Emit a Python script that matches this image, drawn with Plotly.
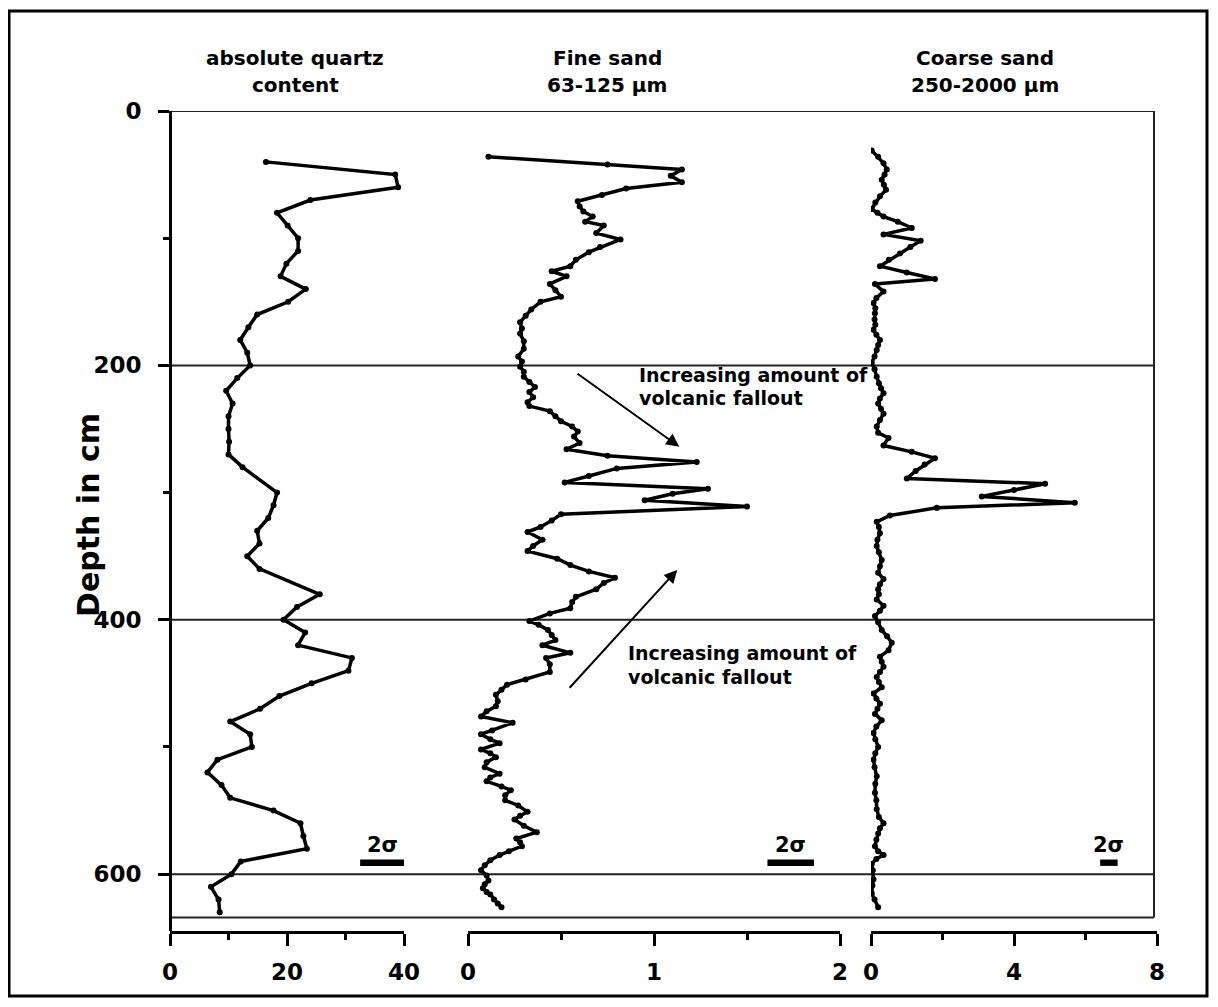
import plotly.graph_objects as go

# ---------------- data ----------------
quartz_depth = [40, 50, 60, 70, 80, 90, 100, 110, 120, 130, 140, 150, 160, 170, 180, 190, 200, 210, 220,
                230, 240, 250, 260, 270, 280, 300, 310, 320, 330, 340, 350, 360, 380, 390, 400, 410,
                420, 430, 440, 450, 460, 470, 480, 490, 500, 510, 520, 530, 540, 550, 560, 570, 580,
                590, 600, 610, 620, 630]
quartz = [16.4, 38.5, 39.0, 24.0, 18.3, 20.1, 21.9, 21.9, 19.9, 18.9, 23.2, 20.2, 14.9, 13.4, 12.0, 13.2,
          13.7, 11.5, 9.6, 10.7, 10.0, 10.0, 10.1, 10.0, 12.4, 18.3, 17.7, 16.8, 14.9, 15.3, 13.2, 15.3,
          25.6, 21.7, 19.4, 23.1, 21.9, 31.1, 30.5, 24.2, 18.7, 15.4, 10.3, 13.7, 14.0, 8.1, 6.4, 8.8,
          10.3, 17.7, 22.3, 22.8, 23.4, 12.1, 10.5, 7.0, 8.3, 8.5]

fine_depth = [36, 42, 46, 51, 56, 61, 66, 71, 75, 79, 83, 87, 90, 96, 101, 107, 111, 117, 122, 126, 130,
              136, 141, 146, 150, 156, 161, 166, 171, 175, 181, 187, 193, 197, 201, 205, 209, 213, 217,
              221, 225, 229, 232, 236, 240, 244, 248, 252, 256, 261, 266, 271, 276, 281, 287, 292, 297,
              301, 306, 311, 317, 322, 327, 331, 337, 342, 346, 352, 357, 362, 367, 371, 376, 382, 386,
              391, 395, 401, 404, 408, 412, 416, 420, 426, 430, 435, 441, 447, 451, 455, 459, 464, 468,
              472, 476, 481, 487, 490, 494, 497, 502, 505, 508, 512, 516, 521, 524, 527, 531, 534, 538,
              542, 546, 551, 554, 557, 562, 567, 572, 575, 578, 582, 585, 589, 593, 597, 601, 605, 608,
              611, 614, 616, 620, 623, 626]
fine_sand = [0.11, 0.75, 1.15, 1.09, 1.15, 0.85, 0.72, 0.59, 0.60, 0.62, 0.67, 0.63, 0.73, 0.69, 0.82,
             0.71, 0.65, 0.58, 0.55, 0.45, 0.53, 0.44, 0.47, 0.50, 0.39, 0.34, 0.31, 0.28, 0.29, 0.28,
             0.30, 0.30, 0.27, 0.29, 0.28, 0.30, 0.30, 0.33, 0.36, 0.33, 0.35, 0.32, 0.33, 0.44, 0.47,
             0.50, 0.56, 0.59, 0.57, 0.60, 0.53, 0.75, 1.23, 0.80, 0.65, 0.52, 1.29, 1.10, 0.95, 1.50,
             0.50, 0.45, 0.39, 0.32, 0.40, 0.35, 0.32, 0.48, 0.55, 0.65, 0.79, 0.73, 0.69, 0.58, 0.56,
             0.55, 0.44, 0.33, 0.38, 0.43, 0.45, 0.47, 0.40, 0.55, 0.42, 0.44, 0.44, 0.31, 0.21, 0.18,
             0.15, 0.16, 0.15, 0.10, 0.07, 0.24, 0.13, 0.07, 0.12, 0.17, 0.07, 0.12, 0.15, 0.10, 0.09,
             0.17, 0.12, 0.10, 0.18, 0.23, 0.20, 0.20, 0.27, 0.32, 0.28, 0.25, 0.30, 0.37, 0.26, 0.28,
             0.29, 0.22, 0.17, 0.12, 0.09, 0.07, 0.10, 0.11, 0.09, 0.08, 0.10, 0.12, 0.14, 0.16, 0.18]

coarse_depth = [31, 36, 41, 46, 50, 54, 58, 62, 67, 72, 77, 80, 83, 87, 92, 97, 102, 107, 112, 117, 122,
                127, 132, 136, 142, 147, 151, 155, 159, 164, 168, 172, 176, 180, 184, 188, 193, 198,
                203, 209, 214, 218, 222, 226, 230, 234, 238, 243, 248, 253, 257, 263, 268, 273, 278,
                283, 289, 293, 298, 303, 308, 312, 318, 323, 327, 332, 337, 342, 347, 353, 358, 363,
                368, 372, 376, 380, 384, 389, 393, 397, 402, 408, 413, 418, 424, 429, 433, 437, 441,
                445, 449, 453, 458, 462, 466, 470, 474, 479, 484, 489, 494, 500, 505, 510, 516, 523,
                529, 536, 542, 549, 555, 560, 564, 568, 573, 578, 582, 585, 588, 592, 597, 604, 609,
                615, 620, 626]
coarse_sand = [0.02, 0.20, 0.35, 0.44, 0.38, 0.30, 0.36, 0.42, 0.25, 0.12, 0.02, 0.18, 0.35, 0.75, 1.14,
               0.35, 1.39, 1.10, 0.81, 0.50, 0.25, 1.00, 1.79, 0.11, 0.35, 0.15, 0.07, 0.12, 0.11, 0.10,
               0.12, 0.07, 0.15, 0.25, 0.20, 0.16, 0.10, 0.02, 0.10, 0.16, 0.22, 0.28, 0.35, 0.25, 0.20,
               0.28, 0.35, 0.25, 0.16, 0.20, 0.49, 0.35, 1.14, 1.79, 1.50, 1.25, 1.00, 4.87, 4.00, 3.10,
               5.70, 1.84, 0.53, 0.16, 0.22, 0.25, 0.18, 0.16, 0.22, 0.30, 0.25, 0.20, 0.35, 0.25, 0.20,
               0.22, 0.16, 0.35, 0.25, 0.11, 0.20, 0.30, 0.45, 0.58, 0.49, 0.25, 0.30, 0.35, 0.25, 0.16,
               0.22, 0.30, 0.07, 0.15, 0.25, 0.18, 0.11, 0.30, 0.15, 0.07, 0.12, 0.20, 0.12, 0.07, 0.10,
               0.16, 0.12, 0.11, 0.15, 0.16, 0.22, 0.35, 0.25, 0.20, 0.15, 0.11, 0.20, 0.35, 0.15, 0.02,
               0.05, 0.07, 0.04, 0.02, 0.10, 0.20]

panel_titles = [("absolute quartz", "content"), ("Fine sand", "63-125 µm"), ("Coarse sand", "250-2000 µm")]
depth_ticks = [0, 200, 400, 600]
depth_minor = [100, 300, 500]
quartz_ticks = [0, 20, 40]
fine_ticks = [0, 1, 2]
coarse_ticks = [0, 4, 8]
sigma_label = "2σ"
# 2-sigma error bars (data units of each panel): (start, end)
sigma_quartz = (32.5, 40.0)
sigma_fine = (1.61, 1.86)
sigma_coarse = (6.41, 6.90)
annot_lines = ("Increasing amount of", "volcanic fallout")

# ---------------- figure ----------------
FONT = "DejaVu Sans, sans-serif"
OFF = 8                      # page body margin
W, H = 1218 - 2 * OFF, 1007 - 2 * OFF
L, T = 170 - OFF, 111 - OFF
R = W - (1157 - OFF)
B = H - (931 - OFF)
PW, PH = W - L - R, H - T - B


def px(xpix):
    return (xpix - OFF - L) / PW


def py(ypix):
    return (H - B - (ypix - OFF)) / PH


fig = go.Figure()
mk = dict(color="black", size=6)
ln = dict(color="black", width=3.5)
fig.add_trace(go.Scatter(x=quartz, y=quartz_depth, mode="lines+markers", line=ln, marker=mk,
                         xaxis="x", yaxis="y", showlegend=False))
fig.add_trace(go.Scatter(x=fine_sand, y=fine_depth, mode="lines+markers", line=ln, marker=mk,
                         xaxis="x2", yaxis="y", showlegend=False))
fig.add_trace(go.Scatter(x=coarse_sand, y=coarse_depth, mode="lines+markers", line=ln, marker=mk,
                         xaxis="x3", yaxis="y", showlegend=False))

box_bottom = 634
right_x = px(1154)

tickfont = dict(family=FONT, size=23, color="black")


def xaxis_cfg(domain, rng, ticks, minor_dtick):
    return dict(domain=domain, range=rng, anchor="y", showline=True, linewidth=3, linecolor="black",
                ticks="outside", ticklen=12, tickwidth=3, tickcolor="black", tickvals=ticks,
                ticktext=[f"<b>{t}</b>" for t in ticks], ticklabelstandoff=6,
                minor=dict(ticks="outside", tickmode="linear", tick0=0, dtick=minor_dtick, ticklen=6,
                           tickwidth=3, tickcolor="black"),
                showgrid=False, zeroline=False, tickfont=tickfont, fixedrange=True)


fig.update_layout(
    width=W, height=H, margin=dict(l=L, r=R, t=T, b=B),
    paper_bgcolor="white", plot_bgcolor="white",
    xaxis=xaxis_cfg([0, px(404)], [0, 40], quartz_ticks, 10),
    xaxis2=xaxis_cfg([px(468), px(840)], [0, 2], fine_ticks, 0.5),
    xaxis3=xaxis_cfg([px(871), 1.0], [0, 8], coarse_ticks, 2),
    yaxis=dict(range=[644.7, 0], autorange=False, domain=[0, 1], anchor="free", position=0,
               showline=True, linewidth=3, linecolor="black", ticks="outside", ticklen=11,
               tickwidth=3, tickcolor="black", tickvals=depth_ticks,
               ticktext=[f"<b>{t}</b>" for t in depth_ticks],
               minor=dict(ticks="outside", tickvals=depth_minor, ticklen=6, tickwidth=3, tickcolor="black"),
               showgrid=False, zeroline=False, tickfont=tickfont, ticklabelstandoff=12),
)

shapes = []
# horizontal box / grid lines
for d in [0] + depth_ticks[1:] + [box_bottom]:
    shapes.append(dict(type="line", xref="paper", yref="y", x0=0, x1=right_x, y0=d, y1=d,
                       line=dict(color="#222222", width=2.2 if d == 0 else 2), layer="below"))
shapes.append(dict(type="line", xref="paper", yref="y", x0=right_x, x1=right_x, y0=0, y1=box_bottom,
                   line=dict(color="#222222", width=2), layer="below"))
# outer frame
shapes.append(dict(type="rect", xref="paper", yref="paper", x0=px(9), x1=px(1207), y0=py(996), y1=py(11),
                   line=dict(color="black", width=3), fillcolor="rgba(0,0,0,0)"))
# 2 sigma bars
sig_depth = 591
for xa, (a, b) in zip(["x", "x2", "x3"], [sigma_quartz, sigma_fine, sigma_coarse]):
    shapes.append(dict(type="rect", xref=xa, yref="y", x0=a, x1=b, y0=sig_depth - 2.5, y1=sig_depth + 2.5,
                       line=dict(width=0), fillcolor="black"))
fig.update_layout(shapes=shapes)

ann = []
for (l1, l2), xc in zip(panel_titles, [295, 607, 985]):
    for txt, yc in [(l1, 58), (l2, 85)]:
        ann.append(dict(text=f"<b>{txt}</b>", xref="paper", yref="paper", x=px(xc), y=py(yc),
                        xanchor="center", yanchor="middle", showarrow=False,
                        font=dict(family=FONT, size=20, color="black")))
ann.append(dict(text="<b>Depth in cm</b>", xref="paper", yref="paper", x=px(88), y=py(515),
                textangle=-90, xanchor="center", yanchor="middle", showarrow=False,
                font=dict(family=FONT, size=30, color="black")))
for xa, (a, b) in zip(["x", "x2", "x3"], [sigma_quartz, sigma_fine, sigma_coarse]):
    ann.append(dict(text=f"<b>{sigma_label}</b>", xref=xa, yref="y", x=(a + b) / 2, y=sig_depth - 3,
                    xanchor="center", yanchor="bottom", showarrow=False,
                    font=dict(family=FONT, size=21, color="black")))
# volcanic fallout texts + arrows (two lines each, tight spacing as in source)
for x0, yl in [(0.909, (207.5, 225.8)), (0.849, (426.5, 445.3))]:
    for txt, yy in zip(annot_lines, yl):
        ann.append(dict(text=f"<b>{txt}</b>", xref="x2", yref="y", x=x0, y=yy, xanchor="left",
                        yanchor="middle", align="left", showarrow=False,
                        font=dict(family=FONT, size=19, color="black")))
ann.append(dict(text="", xref="x2", yref="y", x=1.136, y=263.9, ax=0.581, ay=205.7, axref="x2", ayref="y",
                showarrow=True, arrowhead=2, arrowsize=1.3, arrowwidth=2, arrowcolor="black"))
ann.append(dict(text="", xref="x2", yref="y", x=1.125, y=360.8, ax=0.539, ay=454.6, axref="x2", ayref="y",
                showarrow=True, arrowhead=2, arrowsize=1.3, arrowwidth=2, arrowcolor="black"))
fig.update_layout(annotations=ann)

fig.write_html("out.html")
